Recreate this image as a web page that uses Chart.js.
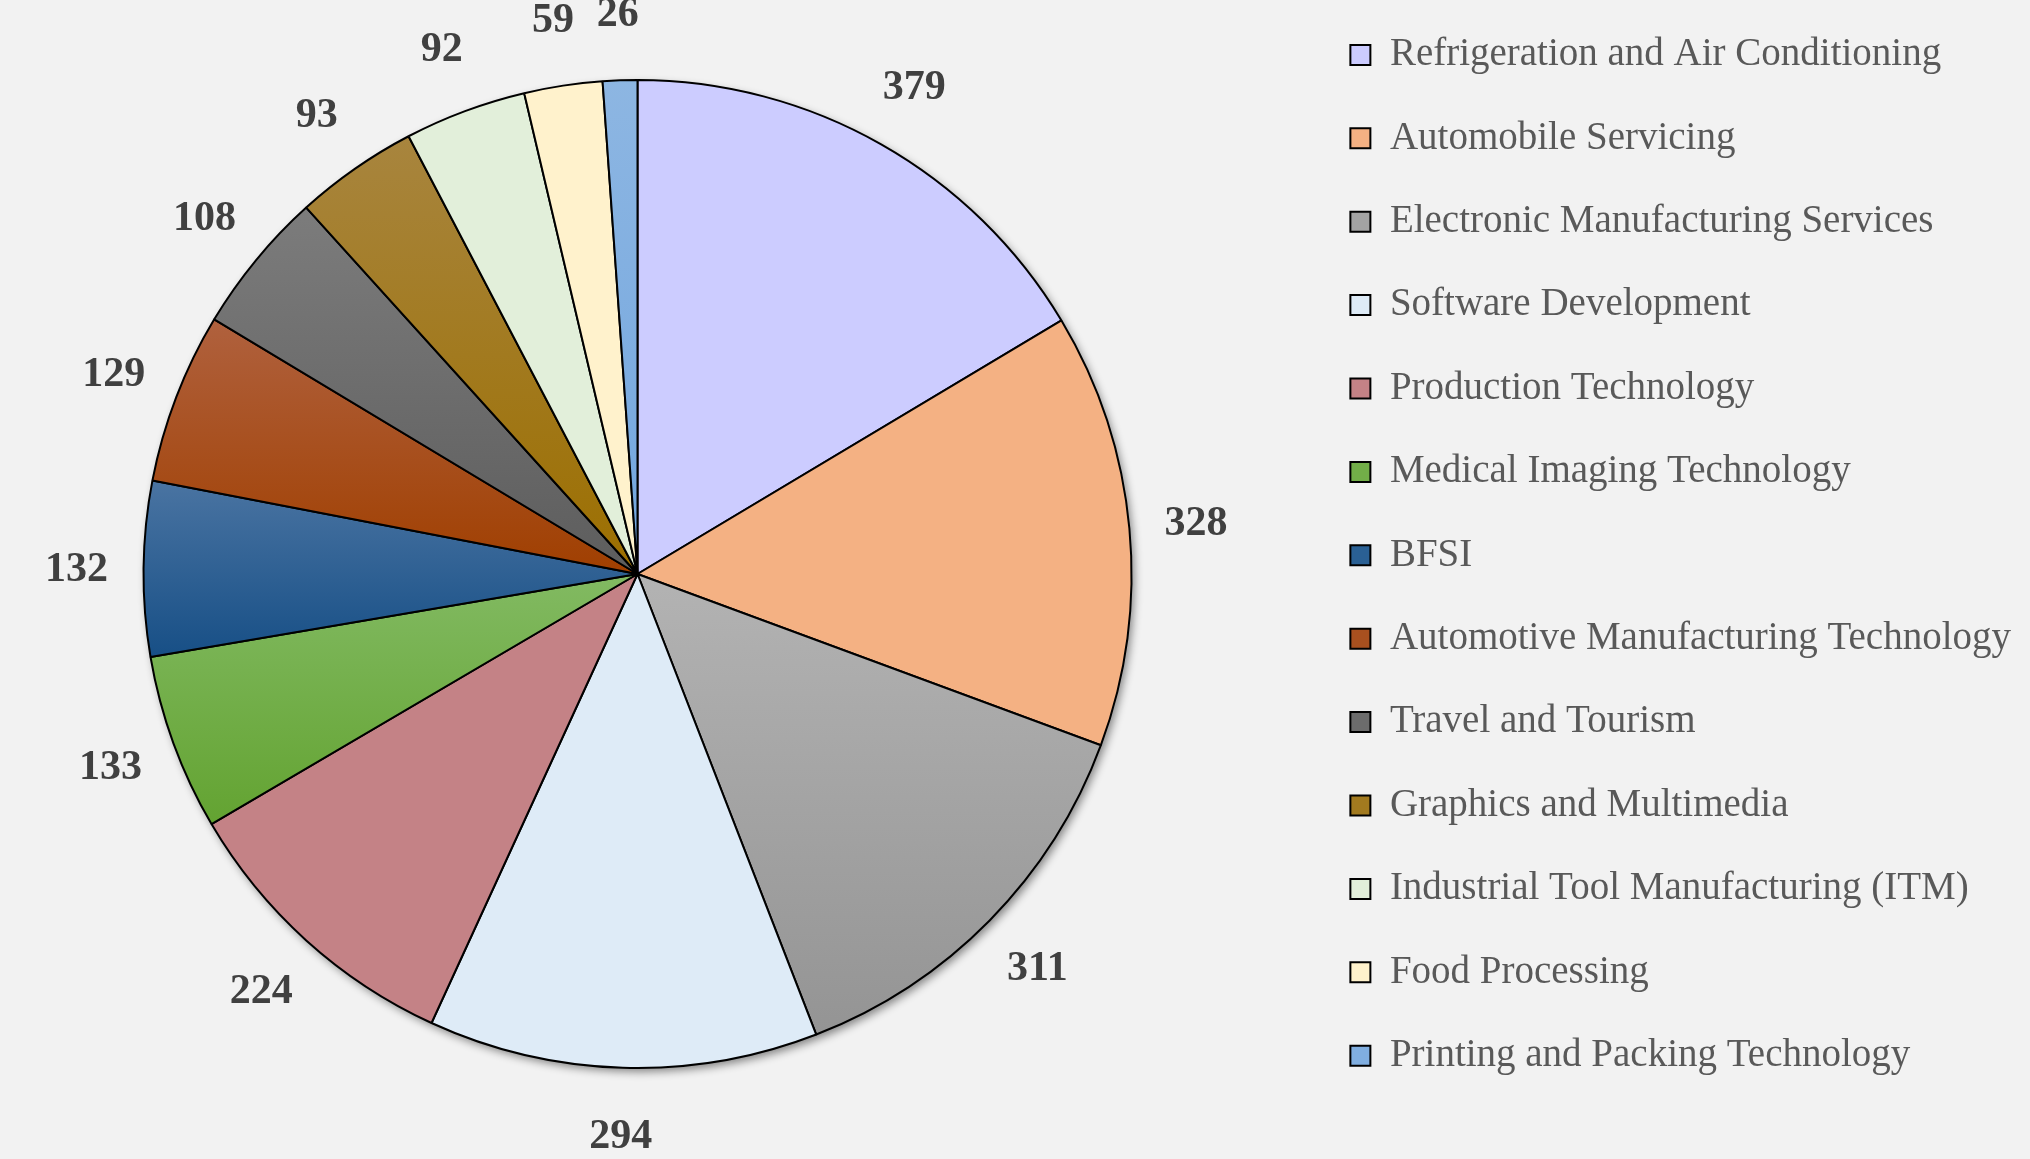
<!DOCTYPE html>
<html>
<head>
<meta charset="utf-8">
<script src="https://cdn.jsdelivr.net/npm/chart.js@4.4.1/dist/chart.umd.min.js"></script>
<style>
  html, body { margin: 0; padding: 0; background: #f2f2f2; }
  #wrap { width: 2030px; height: 1159px; position: relative; }
</style>
</head>
<body>
<div id="wrap"><canvas id="c" width="2030" height="1159"></canvas></div>
<script>
// ---- data ----
const categories = [
  "Refrigeration and Air Conditioning",
  "Automobile Servicing",
  "Electronic Manufacturing Services",
  "Software Development",
  "Production Technology",
  "Medical Imaging Technology",
  "BFSI",
  "Automotive Manufacturing Technology",
  "Travel and Tourism",
  "Graphics and Multimedia",
  "Industrial Tool Manufacturing (ITM)",
  "Food Processing",
  "Printing and Packing Technology"
];
const values = [379, 328, 311, 294, 224, 133, 132, 129, 108, 93, 92, 59, 26];

// ---- styles ----
const topColors = ["#ccccff", "#f4b183", "#b3b3b3", "#deebf7", "#c48286", "#82ba62", "#4a74a2", "#b0613e", "#7c7c7c", "#a8853e", "#e2efda", "#fff2cc", "#8db6e2"];
const bottomColors = ["#ccccff", "#f4b183", "#949494", "#deebf7", "#c48286", "#63a331", "#174f86", "#a03f00", "#5d5d5d", "#9c6f00", "#e2efda", "#fff2cc", "#72a6df"];
const midColors = ["#ccccff", "#f4b183", "#a3a3a3", "#deebf7", "#c48286", "#72ae48", "#2a6094", "#a8501f", "#6c6c6c", "#a27a1f", "#e2efda", "#fff2cc", "#80aee0"];
const PIE_RADIUS = 494;
const PIE_CENTER = { x: 637.5, y: 574 };

const total = values.reduce((a, b) => a + b, 0);

function sliceFill(ctx) {
  const i = ctx.dataIndex;
  const chart = ctx.chart;
  const ca = chart.chartArea;
  if (!ca || topColors[i] === bottomColors[i]) return topColors[i];
  const cx = (ca.left + ca.right) / 2, cy = (ca.top + ca.bottom) / 2;
  let before = 0;
  for (let k = 0; k < i; k++) before += values[k];
  const a0 = -Math.PI / 2 + before / total * 2 * Math.PI;
  const a1 = a0 + values[i] / total * 2 * Math.PI;
  let ymin = cy, ymax = cy;
  for (let k = 0; k <= 60; k++) {
    const a = a0 + (a1 - a0) * k / 60;
    const yy = cy + Math.sin(a) * PIE_RADIUS;
    ymin = Math.min(ymin, yy); ymax = Math.max(ymax, yy);
  }
  const g = chart.ctx.createLinearGradient(0, ymin, 0, ymax);
  g.addColorStop(0, topColors[i]);
  g.addColorStop(1, bottomColors[i]);
  return g;
}

// centre the pie where the reference has it (chart area shifted, size kept)
const placePlugin = {
  id: 'placePie',
  afterLayout(chart) {
    const ca = chart.chartArea;
    const dx = PIE_CENTER.x - (ca.left + ca.right) / 2;
    const dy = PIE_CENTER.y - (ca.top + ca.bottom) / 2;
    ca.left += dx; ca.right += dx; ca.top += dy; ca.bottom += dy;
  }
};

const shadowPlugin = {
  id: 'pieShadow',
  beforeDatasetsDraw(chart) {
    const meta = chart.getDatasetMeta(0);
    if (!meta.data.length) return;
    const arc = meta.data[0];
    const ctx = chart.ctx;
    ctx.save();
    ctx.shadowColor = 'rgba(0,0,0,0.45)';
    ctx.shadowBlur = 9;
    ctx.shadowOffsetX = 3;
    ctx.shadowOffsetY = 4;
    ctx.fillStyle = '#999';
    ctx.beginPath();
    ctx.arc(arc.x, arc.y, arc.outerRadius, 0, Math.PI * 2);
    ctx.fill();
    ctx.restore();
  }
};

const labelPlugin = {
  id: 'outsideLabels',
  afterDatasetsDraw(chart) {
    const meta = chart.getDatasetMeta(0);
    const ctx = chart.ctx;
    ctx.save();
    ctx.font = 'bold 42px "Liberation Serif", serif';
    ctx.fillStyle = '#404040';
    ctx.textAlign = 'center';
    ctx.textBaseline = 'middle';
    meta.data.forEach((arc, i) => {
      const p = arc.getProps(['x', 'y', 'startAngle', 'endAngle', 'outerRadius'], true);
      const mid = (p.startAngle + p.endAngle) / 2;
      const d = p.outerRadius + 67;
      const x = p.x + Math.cos(mid) * d;
      const y = p.y + Math.sin(mid) * d;
      ctx.fillText(String(values[i]), x, y + 2);
    });
    ctx.restore();
  }
};

new Chart(document.getElementById('c'), {
  type: 'pie',
  data: {
    labels: categories,
    datasets: [{
      data: values,
      backgroundColor: sliceFill,
      borderColor: '#000000',
      borderWidth: 2,
      radius: PIE_RADIUS,
      hoverOffset: 0
    }]
  },
  options: {
    responsive: false,
    animation: false,
    devicePixelRatio: 1,
    layout: { padding: { left: 0, right: 9, top: -9, bottom: 0 } },
    plugins: {
      tooltip: { enabled: false },
      legend: {
        position: 'right',
        align: 'start',
        labels: {
          color: '#595959',
          font: { family: '"Liberation Serif", serif', size: 39 },
          boxWidth: 20,
          boxHeight: 20,
          padding: 44.4,
          generateLabels(chart) {
            const items = Chart.overrides.pie.plugins.legend.labels.generateLabels(chart);
            return items.map((it, i) => Object.assign(it, {
              fillStyle: midColors[i],
              strokeStyle: '#000000',
              lineWidth: 2
            }));
          }
        }
      }
    }
  },
  plugins: [placePlugin, shadowPlugin, labelPlugin]
});
</script>
</body>
</html>
